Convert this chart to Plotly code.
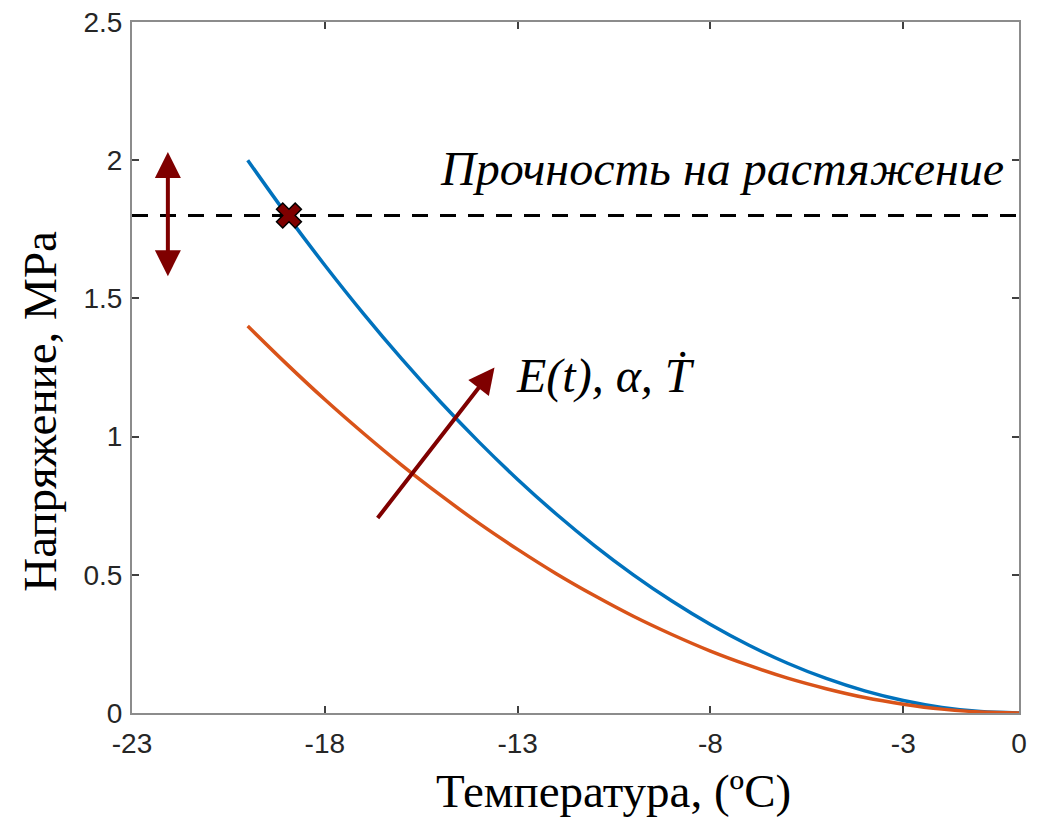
import plotly.graph_objects as go

# Data
temperature = [-20, -19, -18, -17, -16, -15, -14, -13, -12, -11, -10,
               -9, -8, -7, -6, -5, -4, -3, -2, -1, 0]
stress_blue = [2.000, 1.805, 1.620, 1.445, 1.280, 1.125, 0.980, 0.845, 0.720, 0.605, 0.500,
               0.405, 0.320, 0.245, 0.180, 0.125, 0.080, 0.045, 0.020, 0.005, 0.0]
stress_red = [1.400, 1.264, 1.134, 1.012, 0.896, 0.788, 0.686, 0.592, 0.504, 0.424, 0.350,
              0.284, 0.224, 0.172, 0.126, 0.088, 0.056, 0.032, 0.014, 0.004, 0.0]
strength_x = [-23, 0]
strength_y = [1.8, 1.8]
cross_x = [-18.93]
cross_y = [1.8]
x_ticks = [-23, -18, -13, -8, -3, 0]
y_ticks = [0, 0.5, 1, 1.5, 2, 2.5]
y_tick_labels = ["0", "0.5", "1", "1.5", "2", "2.5"]

DARKRED = "#7f0000"
SERIF = "Liberation Serif, Times New Roman, serif"
SANS = "Liberation Sans, Arial, Helvetica, sans-serif"

fig = go.Figure()
fig.add_trace(go.Scatter(x=temperature, y=stress_blue, mode="lines",
                         line=dict(color="#0072BD", width=3.5, shape="spline"),
                         showlegend=False))
fig.add_trace(go.Scatter(x=temperature, y=stress_red, mode="lines",
                         line=dict(color="#D95319", width=3.5, shape="spline"),
                         showlegend=False))
fig.add_trace(go.Scatter(x=strength_x, y=strength_y, mode="lines",
                         line=dict(color="black", width=3, dash="16px,12px"),
                         showlegend=False))
fig.add_trace(go.Scatter(x=cross_x, y=cross_y, mode="markers",
                         marker=dict(symbol="x", size=22, color=DARKRED,
                                     line=dict(color="black", width=1.5)),
                         showlegend=False))

# double arrow at the left
fig.add_annotation(x=-22.07, y=2.03, ax=-22.07, ay=1.575, xref="x", yref="y",
                   axref="x", ayref="y", text="", showarrow=True,
                   arrowhead=2, startarrowhead=2, arrowside="end+start",
                   arrowsize=1.3, startarrowsize=1.3, arrowwidth=4, arrowcolor=DARKRED)
# diagonal arrow
fig.add_annotation(x=-13.6, y=1.25, ax=-16.66, ay=0.70, xref="x", yref="y",
                   axref="x", ayref="y", text="", showarrow=True,
                   arrowhead=2, arrowsize=1.3, arrowwidth=4, arrowcolor=DARKRED)

fig.add_annotation(x=-0.35, y=1.97, xref="x", yref="y", text="<i>Прочность на растяжение</i>",
                   showarrow=False, xanchor="right", yanchor="middle",
                   font=dict(family=SERIF, size=48, color="black"))
fig.add_annotation(x=-13.1, y=1.22, xref="x", yref="y", text="<i>E(t), α, Ṫ</i>",
                   showarrow=False, xanchor="left", yanchor="middle",
                   font=dict(family=SERIF, size=48, color="black"))

# axis titles (placed as in the reference, slightly off-centre)
fig.add_annotation(x=0.543, y=0, xref="paper", yref="paper", yshift=-78,
                   text="Температура, (ºC)", showarrow=False,
                   xanchor="center", yanchor="middle",
                   font=dict(family=SERIF, size=47, color="black"))
fig.add_annotation(x=0, y=0.436, xref="paper", yref="paper", xshift=-92,
                   text="Напряжение, МРа", showarrow=False, textangle=-90,
                   xanchor="center", yanchor="middle",
                   font=dict(family=SERIF, size=47, color="black"))

axis_common = dict(showline=True, linecolor="#8c8c8c", linewidth=2, mirror="ticks",
                   ticks="inside", ticklen=7, tickwidth=1.5, tickcolor="#404040",
                   showgrid=False, zeroline=False, automargin=False,
                   tickfont=dict(family=SANS, size=28, color="#262626"))

fig.update_layout(
    width=1040, height=821,
    margin=dict(l=132, r=21, t=22, b=108),
    plot_bgcolor="white", paper_bgcolor="white",
    xaxis=dict(range=[-23, 0], tickvals=x_ticks, ticktext=[str(v) for v in x_ticks],
               ticklabelstandoff=4, **axis_common),
    yaxis=dict(range=[0, 2.5], tickvals=y_ticks, ticktext=y_tick_labels,
               ticklabelstandoff=2, **axis_common),
)

fig.write_html("out.html", config={"displayModeBar": False},
               post_script="document.body.style.margin='0';")
